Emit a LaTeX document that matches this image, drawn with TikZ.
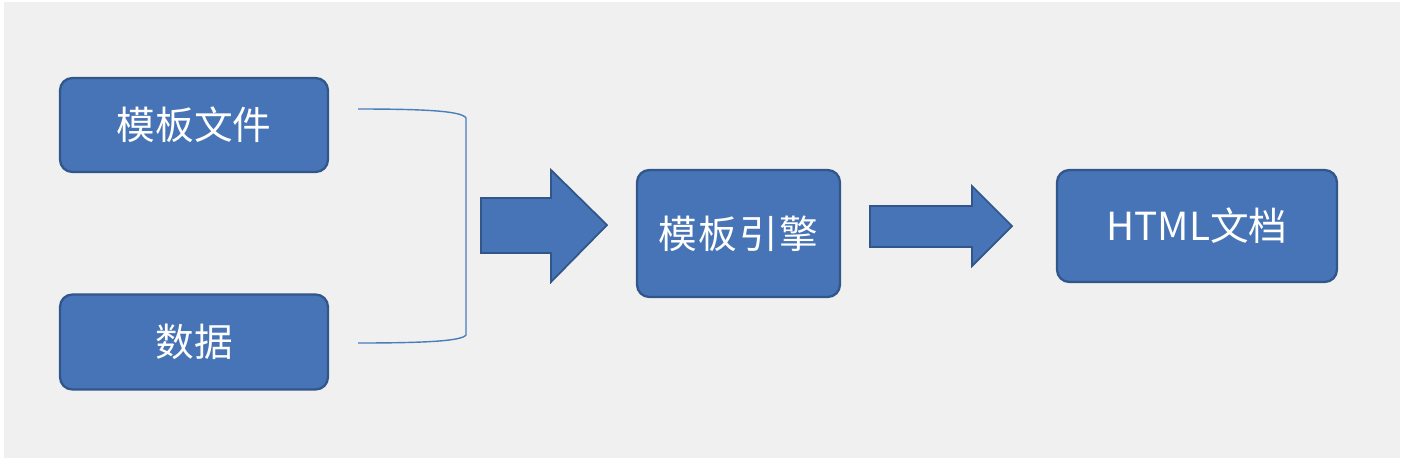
\documentclass[tikz,border=0pt]{standalone}
\usepackage{fontspec}
\newfontfamily\cjk{Noto Sans CJK SC}
\usetikzlibrary{positioning,calc}
\definecolor{boxfill}{HTML}{4674B6}
\definecolor{boxline}{HTML}{31568A}
\definecolor{bracecol}{HTML}{4A7EBB}
\definecolor{paper}{HTML}{F0F0F0}
\tikzset{
	box/.style={draw=boxline, line width=1.3pt, fill=boxfill, rounded corners=7pt,
		text=white, font=\cjk\fontsize{22}{26}\selectfont, inner sep=0pt},
	fatarrow/.style={draw=boxline, line width=1pt, fill=boxfill},
	brace/.style={draw=bracecol, line width=0.8pt}
}

\begin{document}
\begin{tikzpicture}[x=0.02cm, y=-0.02cm]
	\fill[white] (0,0) rectangle (1404,464);
	\fill[paper] (4,2) rectangle (1400,458);
	\useasboundingbox (0,0) rectangle (1404,464);

	\node[box, minimum width=5.36cm, minimum height=1.88cm] (tpl) at (194,125) {模板文件};
	\node[box, minimum width=5.36cm, minimum height=1.9cm] (data) at (194,342) {数据};
	\node[box, minimum width=4.06cm, minimum height=2.54cm] (engine) at (738.5,233.5) {模\kern1pt 板\kern1pt 引\kern1pt 擎};
	\node[box, minimum width=5.6cm, minimum height=2.24cm] (html) at (1197,226) {HTML文档};

	% bracket joining the two inputs
	\coordinate (bt) at (358,109);
	\coordinate (bb) at (358,343);
	\draw[brace] (bt) .. controls (425,109) and (462,111) .. (466,118)
		-- (466,335) .. controls (462,341) and (425,343) .. (bb);

	\draw[fatarrow] (481,198) -- (551,198) -- (551,170) -- (607,225)
		-- (551,282) -- (551,253) -- (481,253) -- cycle;
	\draw[fatarrow] (870,206) -- (972,206) -- (972,186) -- (1012,226)
		-- (972,266) -- (972,247) -- (870,247) -- cycle;
\end{tikzpicture}
\end{document}
